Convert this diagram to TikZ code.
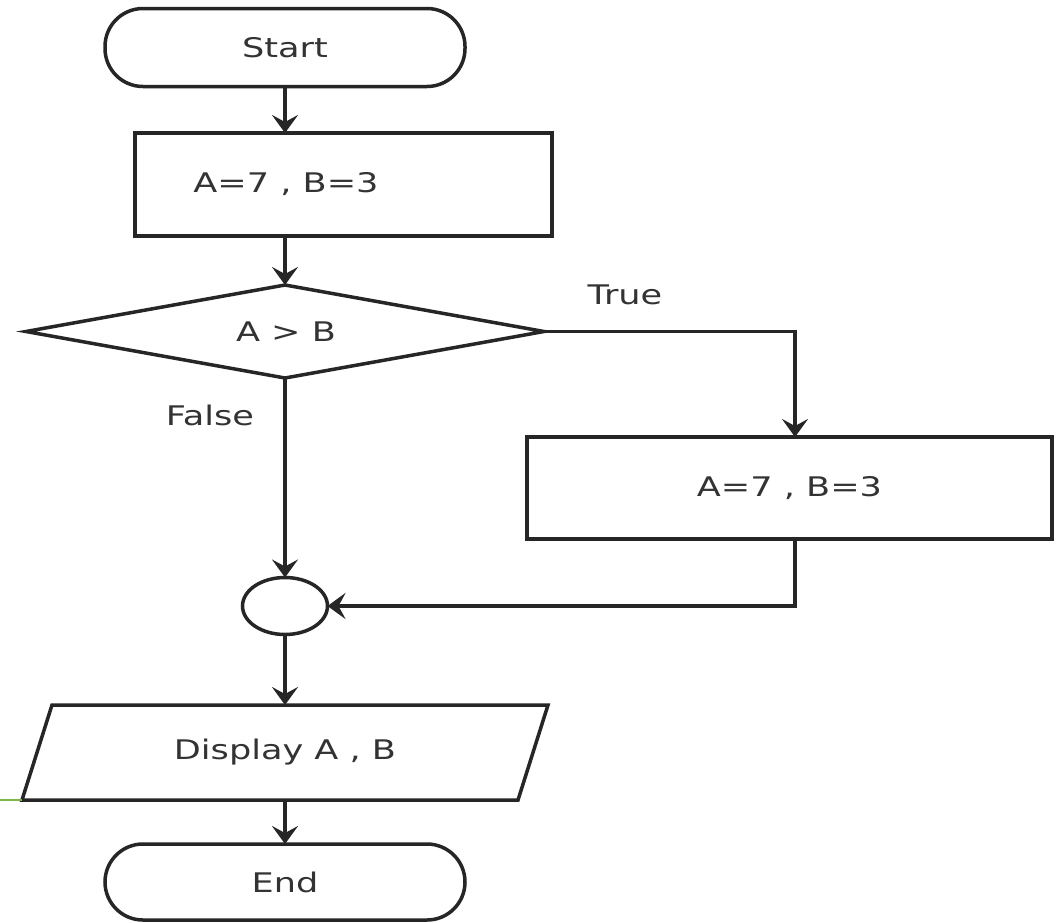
\documentclass[tikz,border=0pt]{standalone}
\usepackage{fontspec}
\setmainfont[FakeStretch=1.3]{DejaVu Sans}
\usetikzlibrary{shapes.geometric,arrows.meta}
\definecolor{accent}{HTML}{7AB648}

\begin{document}
\begin{tikzpicture}[x=1pt,y=-1pt,
  every node/.style={font=\fontsize{27}{32}\selectfont, text=black!80},
  box/.style={draw=black!85, line width=3.5pt, inner sep=0pt, outer sep=0pt, line join=miter},
  term/.style={box, rectangle, rounded corners=38pt, minimum width=360pt, minimum height=78pt},
  proc/.style={box, rectangle},
  decide/.style={box, diamond, minimum width=518pt, minimum height=93pt},
  joint/.style={box, ellipse, minimum width=85pt, minimum height=57pt},
  io/.style={rectangle, inner sep=0pt, outer sep=0pt, minimum width=496pt, minimum height=95pt},
  flow/.style={draw=black!85, line width=3.5pt, -{Stealth[length=18pt,width=26pt,inset=7pt]}},
  tag/.style={inner sep=0pt}
]
\useasboundingbox[fill=white] (0,0) rectangle (1060,922);

% nodes
\node[term] (start) at (285,47.5) {Start};
\node[proc, minimum width=417pt, minimum height=103pt] (init) at (343.5,184.5) {};
\node[tag] (initText) at (286,184.5) {A=7 , B=3};
\node[decide] (cond) at (285,331.5) {};
\node[tag] (condText) at (286,332) {A > B};
\node[proc, minimum width=525pt, minimum height=102pt] (alt) at (789.5,488) {A=7 , B=3};
\node[joint] (join) at (285,606) {};
\node[io] (disp) at (285,752.5) {Display A , B};
\draw[box] ([xshift=15pt]disp.north west) -- ([xshift=15pt]disp.north east)
  -- ([xshift=-15pt]disp.south east) -- ([xshift=-15pt]disp.south west) -- cycle;
\coordinate (dispCorner) at ([xshift=-15pt]disp.south west);
\node[term, minimum height=76pt] (end) at (285,882) {End};

% branch labels
\node[tag] (tLabel) at (625,295) {True};
\node[tag] (fLabel) at (210,415) {False};

% connectors
\draw[flow] (start.south) -- (init.north -| start.south);
\draw[flow] (init.south -| start.south) -- (cond.north);
\draw[flow] (cond.east) -| ([xshift=5.5pt]alt.north);
\draw[flow] (cond.south) -- (join.north);
\draw[flow] ([xshift=5.5pt]alt.south) |- (join.east);
\draw[flow] (join.south) -- (disp.north);
\draw[flow] (disp.south) -- (end.north);

% guide stub at the left edge
\coordinate (edgeL) at (0,800);
\draw[accent, line width=2pt] (edgeL) -- (dispCorner);
\end{tikzpicture}
\end{document}
